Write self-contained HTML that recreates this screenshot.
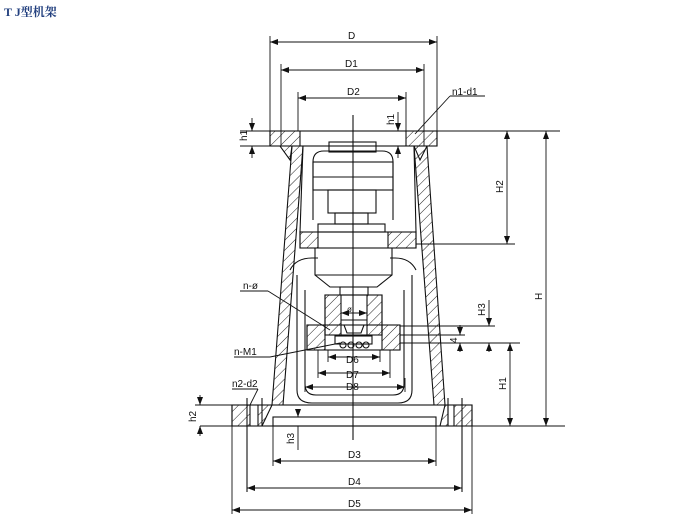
<!DOCTYPE html>
<html><head><meta charset="utf-8"><style>
html,body{margin:0;padding:0;background:#fff;width:690px;height:520px;overflow:hidden}
svg{display:block}
text{font-family:"Liberation Sans",sans-serif;font-size:10px;fill:#111}
</style></head><body>
<svg width="690" height="520" viewBox="0 0 690 520" xmlns="http://www.w3.org/2000/svg">
<defs>
<pattern id="h" width="7" height="7" patternUnits="userSpaceOnUse" patternTransform="rotate(45)">
<line x1="0" y1="0" x2="0" y2="7" stroke="#222" stroke-width="1"/></pattern>
<marker id="a" markerWidth="8" markerHeight="6" refX="8" refY="3" orient="auto-start-reverse" markerUnits="userSpaceOnUse"><path d="M0,0 L8,3 L0,6 z" fill="#111"/></marker>
</defs>
<text x="4" y="16" style="font-family:'Liberation Serif','Noto Serif CJK SC',serif;font-size:12px;font-weight:bold;fill:#23407f">T J型机架</text>
<g stroke="#111" stroke-width="1.1" fill="none">
<line x1="353" y1="115" x2="353" y2="440"/>
<path d="M270,131 H300 V146 L292,146 L290,160 L280,146 H270 Z" fill="url(#h)"/>
<path d="M406,131 H437 V146 H427 L420,160 L414,146 H406 Z" fill="url(#h)"/>
<rect x="270" y="131" width="167" height="15"/>
<path d="M292,146 L272,405 L283,405 L303,146 Z" fill="url(#h)"/>
<path d="M414,146 L427,146 L445,405 L434,405 Z" fill="url(#h)"/>
<path d="M300,232 H318 V248 H300 Z" fill="url(#h)"/>
<path d="M388,232 H416 V248 H388 Z" fill="url(#h)"/>
<rect x="300" y="232" width="116" height="16"/>
<path d="M303,146 L300,232"/><path d="M414,146 L416,232"/>
<path d="M290,270 Q296,258 312,258 L318,258 M297,275 V390 Q297,403 312,403 H398 Q412,403 412,390 V275 M416,270 Q410,258 395,258 L390,258"/>
<path d="M305,290 V384 Q305,395 316,395 H393 Q404,395 404,384 V290"/>
<rect x="329" y="142" width="47" height="10"/>
<path d="M313,220 V162 Q313,151 324,151 H382 Q393,151 393,162 V220"/>
<rect x="313" y="162" width="80" height="28"/>
<line x1="313" y1="177" x2="393" y2="177"/>
<rect x="328" y="190" width="48" height="23"/>
<rect x="335" y="213" width="33" height="11"/>
<rect x="318" y="224" width="67" height="8"/>
<path d="M315,248 H392 V275 L377,287 H330 L315,275 Z"/>
<line x1="315" y1="275" x2="392" y2="275"/>
<rect x="340" y="287" width="28" height="8"/>
<path d="M325,295 H341 V335 H325 Z" fill="url(#h)"/>
<path d="M367,295 H382 V335 H367 Z" fill="url(#h)"/>
<path d="M307,325 H325 V350 H307 Z" fill="url(#h)"/>
<path d="M382,325 H400 V350 H382 Z" fill="url(#h)"/>
<rect x="307" y="325" width="93" height="25"/>
<rect x="325" y="295" width="57" height="40"/>
<path d="M341,320 H367 M344,325 H364 L361,333 H347 Z"/>
<rect x="335" y="336" width="37" height="8"/>
<circle cx="343" cy="345" r="3"/><circle cx="351" cy="345" r="3"/><circle cx="359" cy="345" r="3"/><circle cx="366" cy="345" r="3"/>
<path d="M232,405 H250 V426 H232 Z" fill="url(#h)"/>
<path d="M258,405 H272 L262,426 H258 Z" fill="url(#h)"/>
<path d="M454,405 H472 V426 H454 Z" fill="url(#h)"/>
<path d="M445,405 H448 V426 H440 Z" fill="url(#h)"/>
<rect x="232" y="405" width="240" height="21"/>
<rect x="273" y="417" width="163" height="9"/>
<line x1="247" y1="398" x2="247" y2="492"/><line x1="262" y1="398" x2="262" y2="426"/>
<line x1="462" y1="398" x2="462" y2="492"/><line x1="448" y1="398" x2="448" y2="426"/>
</g>
<g stroke="#111" stroke-width="0.9" fill="none">
<line x1="270" y1="36" x2="270" y2="131"/><line x1="437" y1="36" x2="437" y2="131"/>
<line x1="270" y1="42" x2="437" y2="42" marker-start="url(#a)" marker-end="url(#a)"/>
<line x1="281" y1="64" x2="281" y2="146"/><line x1="424" y1="64" x2="424" y2="146"/>
<line x1="281" y1="70" x2="424" y2="70" marker-start="url(#a)" marker-end="url(#a)"/>
<line x1="298" y1="92" x2="298" y2="131"/><line x1="406" y1="92" x2="406" y2="131"/>
<line x1="298" y1="98" x2="406" y2="98" marker-start="url(#a)" marker-end="url(#a)"/>
<line x1="240" y1="131" x2="560" y2="131"/>
<line x1="240" y1="146" x2="270" y2="146"/>
<line x1="252" y1="118" x2="252" y2="131" marker-end="url(#a)"/><line x1="252" y1="158" x2="252" y2="146" marker-end="url(#a)"/>
<line x1="398" y1="112" x2="398" y2="131" marker-end="url(#a)"/><line x1="398" y1="158" x2="398" y2="146" marker-end="url(#a)"/>
<line x1="415" y1="134" x2="450" y2="96"/><line x1="450" y1="96" x2="485" y2="96"/>
<line x1="416" y1="244" x2="515" y2="244"/>
<line x1="507" y1="131" x2="507" y2="244" marker-start="url(#a)" marker-end="url(#a)"/>
<line x1="546" y1="131" x2="546" y2="426" marker-start="url(#a)" marker-end="url(#a)"/>
<line x1="400" y1="326" x2="495" y2="326"/><line x1="400" y1="343" x2="520" y2="343"/>
<line x1="489" y1="300" x2="489" y2="326" marker-end="url(#a)"/><line x1="489" y1="352" x2="489" y2="343" marker-end="url(#a)"/>
<line x1="400" y1="335" x2="465" y2="335"/>
<line x1="460" y1="325" x2="460" y2="335" marker-end="url(#a)"/><line x1="460" y1="352" x2="460" y2="343" marker-end="url(#a)"/>
<line x1="510" y1="343" x2="510" y2="426" marker-start="url(#a)" marker-end="url(#a)"/>
<line x1="200" y1="426" x2="565" y2="426"/>
<line x1="195" y1="405" x2="232" y2="405"/>
<line x1="200" y1="395" x2="200" y2="405" marker-end="url(#a)"/><line x1="200" y1="436" x2="200" y2="426" marker-end="url(#a)"/>
<line x1="298" y1="409" x2="298" y2="417" marker-end="url(#a)"/><line x1="298" y1="450" x2="298" y2="426"/>
<line x1="273" y1="426" x2="273" y2="466"/><line x1="436" y1="426" x2="436" y2="466"/>
<line x1="273" y1="461" x2="436" y2="461" marker-start="url(#a)" marker-end="url(#a)"/>
<line x1="247" y1="488" x2="462" y2="488" marker-start="url(#a)" marker-end="url(#a)"/>
<line x1="232" y1="426" x2="232" y2="514"/><line x1="472" y1="426" x2="472" y2="514"/>
<line x1="232" y1="510" x2="472" y2="510" marker-start="url(#a)" marker-end="url(#a)"/>
<line x1="328" y1="350" x2="328" y2="362"/><line x1="380" y1="350" x2="380" y2="362"/>
<line x1="328" y1="357" x2="380" y2="357" marker-start="url(#a)" marker-end="url(#a)"/>
<line x1="318" y1="350" x2="318" y2="378"/><line x1="390" y1="350" x2="390" y2="378"/>
<line x1="318" y1="373" x2="390" y2="373" marker-start="url(#a)" marker-end="url(#a)"/>
<line x1="305" y1="378" x2="305" y2="392"/><line x1="405" y1="378" x2="405" y2="392"/>
<line x1="305" y1="387" x2="405" y2="387" marker-start="url(#a)" marker-end="url(#a)"/>
<line x1="341" y1="313" x2="367" y2="313" marker-start="url(#a)" marker-end="url(#a)"/>
<line x1="240" y1="291" x2="268" y2="291"/><line x1="268" y1="291" x2="330" y2="330"/>
<line x1="234" y1="357" x2="270" y2="357"/><line x1="270" y1="357" x2="340" y2="343"/>
<line x1="232" y1="389" x2="258" y2="389"/><line x1="258" y1="389" x2="250" y2="405"/>
</g>
<g>
<text x="348" y="39">D</text>
<text x="345" y="67">D1</text>
<text x="347" y="95">D2</text>
<text x="452" y="95">n1-d1</text>
<text x="243" y="289">n-ø</text>
<text x="234" y="355">n-M1</text>
<text x="232" y="387">n2-d2</text>
<text x="347" y="312" style="font-size:8px">ø</text>
<text x="346" y="363">D6</text>
<text x="346" y="378">D7</text>
<text x="346" y="390">D8</text>
<text x="348" y="458">D3</text>
<text x="348" y="485">D4</text>
<text x="348" y="507">D5</text>
<text transform="translate(247,141) rotate(-90)">h1</text>
<text transform="translate(394,125) rotate(-90)">h1</text>
<text transform="translate(503,193) rotate(-90)">H2</text>
<text transform="translate(542,300) rotate(-90)">H</text>
<text transform="translate(485,316) rotate(-90)">H3</text>
<text transform="translate(457,343) rotate(-90)">4</text>
<text transform="translate(506,390) rotate(-90)">H1</text>
<text transform="translate(196,422) rotate(-90)">h2</text>
<text transform="translate(294,444) rotate(-90)">h3</text>
</g>
</svg>
</body></html>
